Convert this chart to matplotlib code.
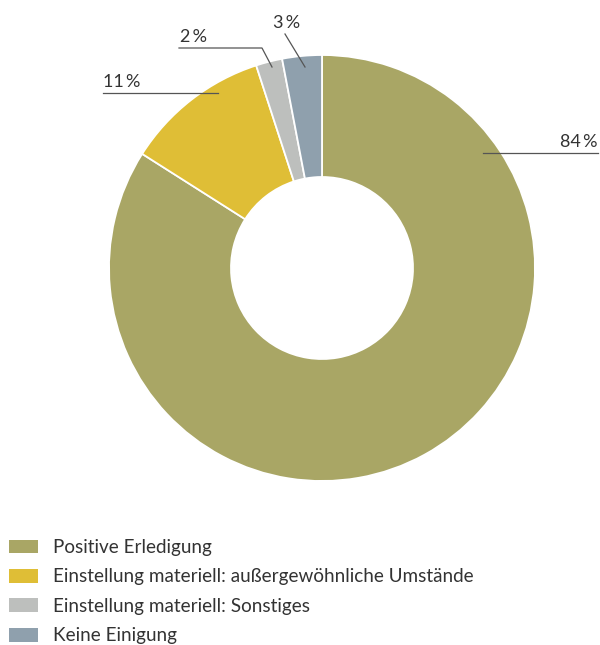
import matplotlib
matplotlib.use("Agg")
import matplotlib.pyplot as plt
from matplotlib.patches import Patch

plt.rcParams['font.family'] = ['Lato', 'DejaVu Sans']

categories = ["Positive Erledigung",
              "Einstellung materiell: außergewöhnliche Umstände",
              "Einstellung materiell: Sonstiges",
              "Keine Einigung"]
values = [84, 11, 2, 3]
colors = ["#A9A665", "#DFBE36", "#BDBFBD", "#8FA0AD"]

W, H = 600, 645
fig = plt.figure(figsize=(W / 100, H / 100), dpi=100)
ax = fig.add_axes([0, 0, 1, 1])

cx, cy, R, r_in = 322, H - 268, 213, 91
wedges, _ = ax.pie(values, colors=colors, startangle=90, counterclock=False,
                   center=(cx, cy), radius=R, frame=True,
                   wedgeprops=dict(width=R - r_in, edgecolor="white", linewidth=1.3))
ax.set_xlim(0, W)
ax.set_ylim(0, H)
ax.set_aspect("equal")
ax.axis("off")

lc = "#555555"
tc = "#333333"
fs = 13
def Y(p):
    return H - p

# leader lines + labels
ax.plot([483, 598], [Y(153), Y(153)], color=lc, lw=0.9)
ax.text(598, Y(147), f"{values[0]}\u2009%", ha="right", va="baseline", fontsize=fs, color=tc)
ax.plot([103, 218], [Y(93), Y(93)], color=lc, lw=0.9)
ax.text(103, Y(87), f"{values[1]}\u2009%", ha="left", va="baseline", fontsize=fs, color=tc)
ax.plot([179, 262, 272], [Y(48), Y(48), Y(67)], color=lc, lw=0.9)
ax.text(180, Y(42), f"{values[2]}\u2009%", ha="left", va="baseline", fontsize=fs, color=tc)
ax.plot([285, 305], [Y(34), Y(67)], color=lc, lw=0.9)
ax.text(273, Y(28), f"{values[3]}\u2009%", ha="left", va="baseline", fontsize=fs, color=tc)

handles = [Patch(facecolor=c, edgecolor="none") for c in colors]
fig.legend(handles, categories, loc="upper left", bbox_to_anchor=(9 / W, 1 - 539 / H),
           frameon=False, fontsize=13.6, handlelength=1.53, handleheight=0.74,
           labelspacing=0.66, handletextpad=0.8, borderaxespad=0, borderpad=0,
           labelcolor=tc)

fig.savefig("out.png", dpi=100)
